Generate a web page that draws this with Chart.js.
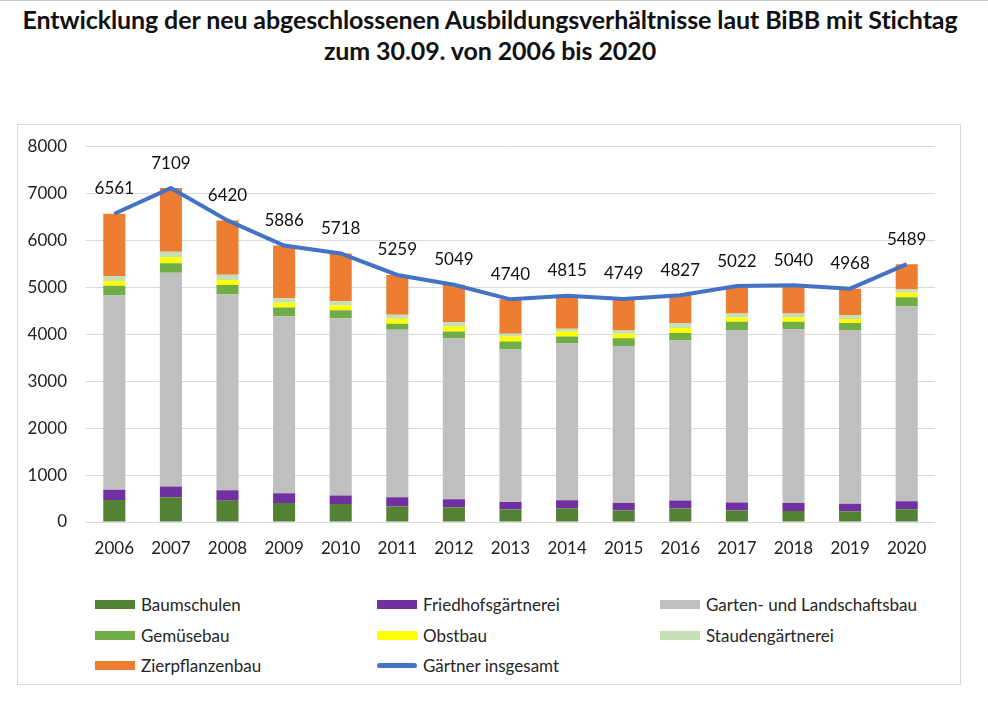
<!DOCTYPE html>
<html>
<head>
<meta charset="utf-8">
<script src="https://cdn.jsdelivr.net/npm/chart.js@4"></script>
<style>
  html, body { margin: 0; padding: 0; background: #fff; }
  body { width: 988px; height: 721px; position: relative; overflow: hidden; font-family: Lato, "Noto Sans", sans-serif; border-top: 1px solid #c8c8c8; box-sizing: border-box; }
  #title { position: absolute; left: 0; top: 3px; width: 980px; text-align: center; font-weight: bold; font-size: 25px; line-height: 31px; color: #111; letter-spacing: -0.1px; }
  #box { position: absolute; left: 17px; top: 123px; width: 944px; height: 561px; border: 1px solid #d9d9d9; box-sizing: border-box; }
  #wrap { position: absolute; left: 17px; top: 116px; width: 945px; height: 448px; }
  .lg { position: absolute; height: 20px; display: flex; align-items: center; font-size: 17px; color: #262626; white-space: nowrap; }
  .sw { width: 40px; height: 9px; margin-right: 6px; }
  .ln { width: 40px; height: 5px; border-radius: 3px; margin-right: 6px; }
</style>
</head>
<body>
<div id="title">Entwicklung der neu abgeschlossenen Ausbildungsverhältnisse laut BiBB mit Stichtag<br>zum 30.09. von 2006 bis 2020</div>
<div id="box"></div>
<div id="wrap"><canvas id="c"></canvas></div>
<div id="legend"></div>
<script>
const years = ["2006","2007","2008","2009","2010","2011","2012","2013","2014","2015","2016","2017","2018","2019","2020"];
const baumschulen      = [470, 528, 455, 406, 385, 330, 315, 265, 293, 244, 286, 244, 236, 229, 272];
const friedhof         = [214, 227, 222, 207, 177, 199, 171, 163, 172, 163, 172, 171, 171, 157, 171];
const galabau          = [4145, 4551, 4173, 3767, 3776, 3563, 3428, 3257, 3342, 3341, 3405, 3662, 3700, 3691, 4149];
const gemuese          = [199, 200, 193, 186, 171, 129, 142, 156, 141, 166, 158, 187, 157, 159, 193];
const obstbau          = [100, 128, 107, 99, 100, 107, 107, 107, 108, 92, 108, 92, 92, 86, 95];
const stauden          = [107, 121, 113, 100, 92, 86, 95, 58, 58, 71, 107, 80, 80, 86, 71];
const zierpflanzen     = [1326, 1354, 1157, 1121, 1017, 845, 791, 734, 701, 672, 591, 586, 604, 560, 538];
const gesamt           = [6561, 7109, 6420, 5886, 5718, 5259, 5049, 4740, 4815, 4749, 4827, 5022, 5040, 4968, 5489];
const yTicks           = [0, 1000, 2000, 3000, 4000, 5000, 6000, 7000, 8000];

const barSeries = [
  { label: "Baumschulen", data: baumschulen, color: "#548235" },
  { label: "Friedhofsgärtnerei", data: friedhof, color: "#7030A0" },
  { label: "Garten- und Landschaftsbau", data: galabau, color: "#BFBFBF" },
  { label: "Gemüsebau", data: gemuese, color: "#70AD47" },
  { label: "Obstbau", data: obstbau, color: "#FFFF00" },
  { label: "Staudengärtnerei", data: stauden, color: "#C5E0B4" },
  { label: "Zierpflanzenbau", data: zierpflanzen, color: "#ED7D31" }
];
const lineSeries = { label: "Gärtner insgesamt", data: gesamt, color: "#4472C4" };

const datasets = barSeries.map(s => ({
  type: "bar", label: s.label, data: s.data, backgroundColor: s.color,
  stack: "a", barPercentage: 0.78, categoryPercentage: 0.5, order: 2
}));
datasets.push({
  type: "line", label: lineSeries.label, data: lineSeries.data, borderColor: lineSeries.color,
  borderWidth: 4, pointRadius: 0, tension: 0, fill: false, stack: "total", order: 1
});

const valueLabels = {
  id: "valueLabels",
  afterDatasetsDraw(chart) {
    const idx = chart.data.datasets.length - 1;
    const meta = chart.getDatasetMeta(idx);
    const ctx = chart.ctx;
    ctx.save();
    ctx.font = "17px Lato";
    ctx.fillStyle = "#111";
    ctx.textAlign = "center";
    ctx.textBaseline = "middle";
    meta.data.forEach((pt, i) => {
      ctx.fillText(String(chart.data.datasets[idx].data[i]), pt.x, pt.y - 25);
    });
    ctx.restore();
  }
};

new Chart(document.getElementById("c"), {
  data: { labels: years, datasets },
  plugins: [valueLabels],
  options: {
    responsive: true, maintainAspectRatio: false, animation: false,
    layout: { padding: { top: 14, right: 27, left: 0, bottom: 0 } },
    plugins: { legend: { display: false }, tooltip: { enabled: false } },
    scales: {
      x: {
        stacked: true,
        grid: { display: false, drawTicks: false },
        border: { display: false },
        ticks: { font: { family: "Lato", size: 17 }, color: "#222", padding: 16, maxRotation: 0 },
        afterFit(s) { s.height = 43; }
      },
      y: {
        stacked: true, min: 0, max: 8000,
        afterBuildTicks(s) { s.ticks = yTicks.map(v => ({ value: v })); },
        grid: { color: "#D9D9D9", lineWidth: 1, drawTicks: false },
        border: { display: false },
        ticks: { font: { family: "Lato", size: 17 }, color: "#222", padding: 19, callback: v => String(v) },
        afterFit(s) { s.width = 69; }
      }
    }
  }
});

// legend (3 columns)
const legendItems = barSeries.map(s => ({ label: s.label, color: s.color, line: false }));
legendItems.push({ label: lineSeries.label, color: lineSeries.color, line: true });
const colX = [95, 377, 660];
const rowY = [603, 634, 664];
const lg = document.getElementById("legend");
legendItems.forEach((it, i) => {
  const d = document.createElement("div");
  d.className = "lg";
  d.style.left = colX[i % 3] + "px";
  d.style.top = (rowY[Math.floor(i / 3)] - 10) + "px";
  const sw = document.createElement("span");
  sw.className = it.line ? "ln" : "sw";
  sw.style.background = it.color;
  d.appendChild(sw);
  d.appendChild(document.createTextNode(it.label));
  lg.appendChild(d);
});
</script>
</body>
</html>
